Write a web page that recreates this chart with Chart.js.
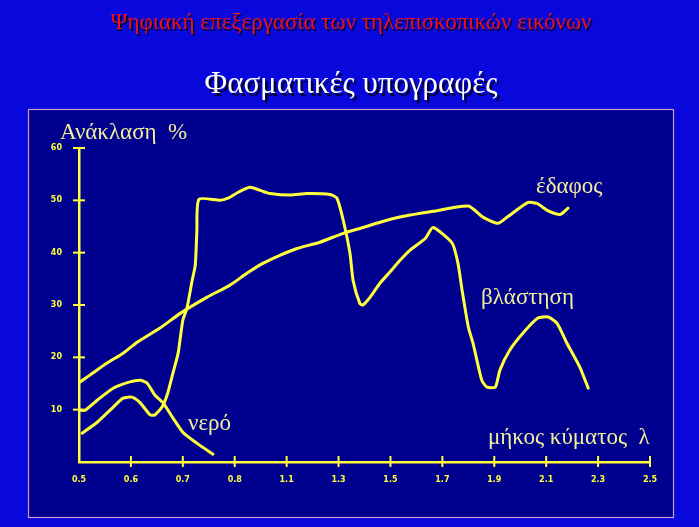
<!DOCTYPE html>
<html>
<head>
<meta charset="utf-8">
<script src="https://cdn.jsdelivr.net/npm/chart.js@4"></script>
<style>
html,body{margin:0;padding:0;background:#0808DC;}
#wrap{width:699px;height:527px;}
</style>
</head>
<body>
<div id="wrap"><canvas id="c" width="699" height="527"></canvas></div>
<script>
// Tick labels (wavelength, µm) — equally spaced positions on the drawn axis
const xLabels = ["0.5","0.6","0.7","0.8","1.1","1.3","1.5","1.7","1.9","2.1","2.3","2.5"];
const yTicks = [10,20,30,40,50,60];

// Curves: x = position along the tick axis (tick index), y = reflectance %
const soilX = [0.02,0.21,0.54,0.85,1.12,1.56,1.95,2.47,2.91,3.24,3.55,3.87,4.20,4.64,5.09,5.47,5.80,6.18,6.82,7.50,7.78,8.07,8.25,8.65,8.82,9.02,9.27,9.42];
const soilY = [15.3,16.6,18.9,20.8,22.9,25.6,28.4,31.5,33.8,36.1,38.0,39.5,40.8,42.0,43.7,44.8,45.8,46.8,47.9,48.9,46.8,45.6,46.8,49.6,49.4,48.1,47.3,48.5];

const vegX = [0.06,0.35,0.66,0.85,1.02,1.18,1.37,1.46,1.60,1.71,1.81,1.91,2.00,2.08,2.18,2.24,2.27,2.31,2.72,2.87,3.06,3.29,3.49,3.68,4.07,4.39,4.84,4.97,5.09,5.22,5.28,5.41,5.47,5.61,5.80,5.99,6.18,6.38,6.67,6.82,7.19,7.30,7.38,7.50,7.59,7.76,7.86,8.02,8.11,8.30,8.55,8.84,9.04,9.21,9.40,9.65,9.81];
const vegY = [5.5,7.6,10.5,12.2,12.4,11.3,9.0,9.0,10.5,13.2,17.0,20.8,27.1,29.4,34.7,37.6,44.0,50.2,50.0,50.4,51.5,52.5,51.9,51.3,51.0,51.3,51.1,50.4,46.2,39.9,34.7,30.3,30.0,31.5,34.2,36.3,38.5,40.5,42.7,44.8,41.8,38.0,32.8,25.8,22.7,15.6,14.3,14.3,17.6,21.4,24.6,27.5,27.7,26.5,22.7,18.1,14.1];

const waterX = [0.02,0.12,0.35,0.66,0.98,1.18,1.31,1.46,1.62,1.81,2.00,2.27,2.58];
const waterY = [9.9,9.9,11.8,14.1,15.3,15.6,15.1,12.8,11.3,8.4,5.7,3.6,1.5];

const toPts = (xs, ys) => xs.map((x, i) => ({x: x, y: ys[i]}));

const YELLOW = '#FFFF3A';
const TEXTY = '#F2EE9A';

const decor = {
  id: 'decor',
  beforeDraw(chart) {
    const ctx = chart.ctx;
    ctx.save();
    ctx.fillStyle = '#0808DC';
    ctx.fillRect(0, 0, chart.width, chart.height);
    ctx.fillStyle = '#00008E';
    ctx.fillRect(28, 109, 646, 409);
    ctx.strokeStyle = '#C89AD0';
    ctx.lineWidth = 1.2;
    ctx.strokeRect(28.5, 109.5, 645, 408);
    // titles
    ctx.textAlign = 'center';
    ctx.textBaseline = 'alphabetic';
    ctx.shadowColor = 'rgba(0,0,0,0.8)';
    ctx.shadowOffsetX = 1.5; ctx.shadowOffsetY = 1.5; ctx.shadowBlur = 0;
    ctx.font = '23px "Liberation Serif", "DejaVu Serif", serif';
    ctx.fillStyle = '#EE1018';
    ctx.fillText('Ψηφιακή επεξεργασία των τηλεπισκοπικών εικόνων', 351, 29);
    ctx.shadowOffsetX = 2.5; ctx.shadowOffsetY = 2.5;
    ctx.font = '31px "Liberation Serif", "DejaVu Serif", serif';
    ctx.fillStyle = '#FFFFFF';
    ctx.fillText('Φασματικές υπογραφές', 351, 93);
    ctx.restore();
  },
  afterDraw(chart) {
    const ctx = chart.ctx;
    const xs = chart.scales.x, ys = chart.scales.y;
    ctx.save();
    ctx.strokeStyle = YELLOW;
    ctx.lineWidth = 2;
    // tick marks crossing the axes
    for (let i = 1; i < xLabels.length; i++) {
      const px = xs.getPixelForValue(i);
      ctx.beginPath(); ctx.moveTo(px, ys.bottom - 6); ctx.lineTo(px, ys.bottom + 5); ctx.stroke();
    }
    yTicks.forEach(v => {
      const py = ys.getPixelForValue(v);
      ctx.beginPath(); ctx.moveTo(xs.left - 6, py); ctx.lineTo(xs.left + 6, py); ctx.stroke();
    });
    // annotations
    ctx.fillStyle = TEXTY;
    ctx.textAlign = 'left';
    ctx.textBaseline = 'alphabetic';
    ctx.font = '23px "Liberation Serif", "DejaVu Serif", serif';
    ctx.fillText('Ανάκλαση  %', 60, 139);
    ctx.fillText('έδαφος', 536, 193);
    ctx.fillText('βλάστηση', 481, 304);
    ctx.fillText('νερό', 188, 430);
    ctx.fillText('μήκος κύματος  λ', 488, 444);
    ctx.restore();
  }
};

const ds = (pts) => ({
  data: pts, showLine: true, borderColor: YELLOW, borderWidth: 3,
  pointRadius: 0, tension: 0.2, fill: false, borderCapStyle: 'round', borderJoinStyle: 'round'
});

new Chart(document.getElementById('c'), {
  type: 'scatter',
  data: { datasets: [ds(toPts(soilX, soilY)), ds(toPts(vegX, vegY)), ds(toPts(waterX, waterY))] },
  options: {
    responsive: false, animation: false, devicePixelRatio: 1,
    layout: { padding: { left: 50, right: 49, top: 148, bottom: 45 } },
    plugins: { legend: { display: false }, tooltip: { enabled: false } },
    scales: {
      x: {
        type: 'linear', min: 0, max: 11,
        afterFit: s => { s.height = 20; },
        afterBuildTicks: s => { s.ticks = xLabels.map((_, i) => ({ value: i })); },
        ticks: { callback: (v) => xLabels[v], color: YELLOW, font: { size: 8, weight: 'bold', family: 'DejaVu Sans' }, padding: 5, maxRotation: 0, autoSkip: false },
        grid: { display: false },
        border: { display: true, color: YELLOW, width: 2.5 }
      },
      y: {
        min: 0, max: 60,
        afterFit: s => { s.width = 29; },
        afterBuildTicks: s => { s.ticks = yTicks.map(v => ({ value: v })); },
        ticks: { color: YELLOW, font: { size: 8, weight: 'bold', family: 'DejaVu Sans' }, padding: 9 },
        grid: { display: false },
        border: { display: true, color: YELLOW, width: 2.5 }
      }
    }
  },
  plugins: [decor]
});
</script>
</body>
</html>
